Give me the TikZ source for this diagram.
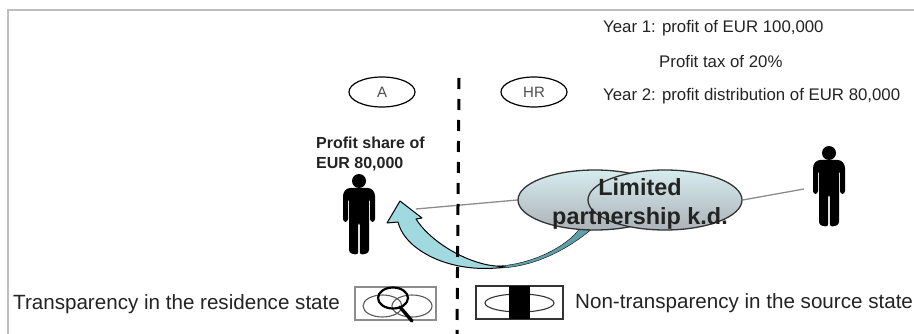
\documentclass[tikz,border=0pt]{standalone}
\usepackage{fontspec}
\setmainfont{Liberation Sans}
\usetikzlibrary{shapes.geometric, positioning, calc, backgrounds}
\definecolor{framegray}{RGB}{190,190,190}
\definecolor{linegray}{RGB}{140,140,140}
\definecolor{textdark}{RGB}{35,35,35}
\definecolor{ovaltop}{RGB}{214,236,238}
\definecolor{ovalbottom}{RGB}{172,178,184}
\definecolor{arrowteal}{RGB}{160,218,224}
\definecolor{arrowdark}{RGB}{96,160,168}

\tikzset{
    personfig/.pic={
        \fill[black] (0,0) circle (7);
        \fill[black, rounded corners=3] (-16,41) -- (-16,12) -- (-12,7) -- (12,7) -- (16,12) -- (16,41) -- (11,41) -- (11,17) -- (10,17) -- (10,72) -- (0.8,74) -- (0.8,41) -- (-0.8,41) -- (-0.8,74) -- (-10,72) -- (-10,17) -- (-11,17) -- (-11,41) -- cycle;
    }
}

\begin{document}
\begin{tikzpicture}[
        x=1pt, y=-1pt,
        info/.style={anchor=west, inner sep=0pt, text height=12pt, text depth=3.5pt, font=\fontsize{16.8}{18}\selectfont, text=textdark},
        legend/.style={anchor=west, inner sep=0pt, text height=15pt, text depth=4.5pt, font=\fontsize{20.6}{22}\selectfont, text=textdark},
        state/.style={ellipse, draw=black, line width=1.2pt, fill=white, minimum width=66pt, minimum height=30pt, inner sep=0pt, font=\fontsize{15}{16}\selectfont, text=textdark!80},
        partner/.style={ellipse, draw=black!80, line width=1.3pt, top color=ovaltop, bottom color=ovalbottom, minimum width=154pt, minimum height=60pt, inner sep=0pt},
        box/.style={rectangle, inner sep=0pt, minimum height=33pt}
    ]
        \useasboundingbox (0,0) rectangle (914,334);
        \draw[framegray, line width=1.4pt] (8,334) -- (8,10) -- (914,10);

        % texts top right
        \node[info] (yearone) at (603,28) {Year 1: profit of EUR 100,000};
        \node[info] (tax) at (659,63) {Profit tax of 20\%};
        \node[info] (yeartwo) at (603,96) {Year 2: profit distribution of EUR 80,000};

        % states
        \node[state] (stateA) at (382,92) {A};
        \node[state] (stateHR) at (534,92) {HR};
        \coordinate (bordertop) at (459,78);
        \coordinate (borderbottom) at (457,334);
        \draw[black, line width=3pt, dash pattern=on 11pt off 10pt] (bordertop) -- (borderbottom);

        \node[anchor=north west, align=left, inner sep=0pt, font=\fontsize{16}{20}\selectfont\bfseries, text=textdark] (share) at (316,137) {Profit share of\\EUR 80,000};
        \pic at (359,181) {personfig};
        \pic at (829,153) {personfig};
        \coordinate (personA) at (416,209);
        \coordinate (personB) at (804,189);

        \node[partner] (kdleft) at (595,200) {};
        \node[partner] (kdright) at (665,200) {};
        \node[align=center, inner sep=0pt, font=\fontsize{23.4}{29}\selectfont\bfseries, text=textdark] (kdlabel) at (640,204) {Limited\\partnership k.d.};
        \draw[linegray, line width=1.3pt] (kdright.east) -- (personB);

        % curved arrow
        \begin{scope}[on background layer]
            \draw[linegray, line width=1.3pt] (kdleft.west) -- (personA);
            \fill[arrowdark, draw=black] (497,268) .. controls (530,268) and (565,252) .. (593,228) -- (580,228) .. controls (567,247) and (530,265) .. (497,266) -- cycle;
            \draw[black, line width=1pt, fill=arrowteal, line join=round] (387,223) -- (400,201) -- (422,218) -- (416,219)
                .. controls (428,238) and (455,256) .. (480,263)
                .. controls (490,266) and (497,266) .. (505,267)
                .. controls (480,271) and (440,268) .. (413,245)
                .. controls (405,238) and (400,230) .. (398,222) -- cycle;
        \end{scope}

        % legend
        \node[legend] (residence) at (13,304) {Transparency in the residence state};
        \node[box, draw=linegray, line width=1.4pt, minimum width=81pt] (boxA) at (395.5,303.5) {};
        \draw[black!65, line width=1.1pt] (382.5,306) ellipse (19.5 and 11);
        \draw[black!65, line width=1.1pt] (412,306) ellipse (20 and 11);
        \draw[black, line width=2.2pt] (393,298) ellipse (15 and 10.5);
        \draw[black, line width=3.4pt, line cap=round] (400,307) -- (412,321);

        \node[box, draw=black!80, line width=1.1pt, minimum width=87pt] (boxHR) at (519.5,302.5) {};
        \draw[black!80, line width=1.1pt] (519.5,303) ellipse (34.5 and 9);
        \node[box, fill=black, minimum width=21pt] (blackbar) at (519.5,302.5) {};
        \node[legend] (source) at (575,303) {Non-transparency in the source state};
    \end{tikzpicture}
\end{document}
